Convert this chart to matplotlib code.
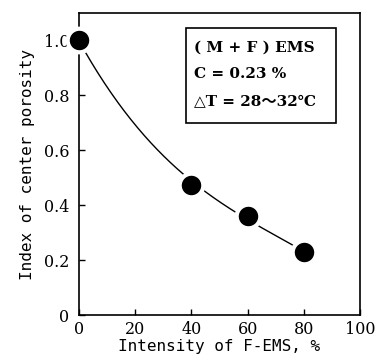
import numpy as np
import matplotlib.pyplot as plt

# measured points
intensity = [0, 40, 60, 80]
porosity = [1.0, 0.475, 0.36, 0.23]

# fitted curve
curve_x = [2, 10, 20, 30, 40, 50, 60, 70, 80]
curve_y = [0.96, 0.83, 0.70, 0.58, 0.48, 0.41, 0.355, 0.29, 0.23]

x_ticks = [0, 20, 40, 60, 80, 100]
y_ticks = [0, 0.2, 0.4, 0.6, 0.8, 1.0]
y_ticklabels = ['0', '0.2', '0.4', '0.6', '0.8', '1.0']

box_lines = ['( M + F ) EMS', 'C = 0.23 %', '△T = 28～32℃']

fig = plt.figure(figsize=(3.79, 3.57), dpi=100)
ax = fig.add_axes([79 / 379, 1 - 315 / 357, (360 - 79) / 379, (315 - 13) / 357])

# smooth fitted line
coef = np.polyfit(curve_x, curve_y, 3)
xs = np.linspace(curve_x[0], curve_x[-1], 200)
ax.plot(xs, np.polyval(coef, xs), color='black', lw=1.0, zorder=2)

# markers with white rim to break the line around them
ax.plot(intensity, porosity, 'o', color='black', markersize=17,
        markeredgecolor='white', markeredgewidth=3, clip_on=False, zorder=3)
ax.plot(intensity, porosity, 'o', color='black', markersize=13,
        markeredgewidth=0, clip_on=False, zorder=4)

ax.set_xlim(0, 100)
ax.set_ylim(0, 1.1)
ax.set_xticks(x_ticks)
ax.set_yticks(y_ticks)
ax.set_yticklabels(y_ticklabels)
ax.tick_params(direction='in', length=4, width=1, top=False, right=False,
               labelsize=11.5, pad=4)
for lab in ax.get_xticklabels() + ax.get_yticklabels():
    lab.set_family('DejaVu Serif')
ax.tick_params(axis='y', pad=7)
for s in ax.spines.values():
    s.set_linewidth(1.2)

ax.set_xlabel('Intensity of F-EMS, %', family='DejaVu Sans Mono',
              fontsize=11.5, labelpad=1)
ax.set_ylabel('Index of center porosity', family='DejaVu Sans Mono',
              fontsize=11.5, labelpad=6)

# condition box
bx0, by0 = (186 - 79) / 281, (315 - 123) / 302
bw, bh = (336 - 186) / 281, (123 - 28) / 302
ax.add_patch(plt.Rectangle((bx0, by0), bw, bh, transform=ax.transAxes,
                           fill=False, lw=1.2, color='black'))
for i, t in enumerate(box_lines):
    ax.text(bx0 + 0.03, by0 + bh - 0.065 - i * 0.088, t, transform=ax.transAxes,
            fontsize=11, va='center', ha='left', weight='bold',
            family=['DejaVu Serif', 'Noto Sans CJK SC'])

fig.savefig('out.png', dpi=100)
